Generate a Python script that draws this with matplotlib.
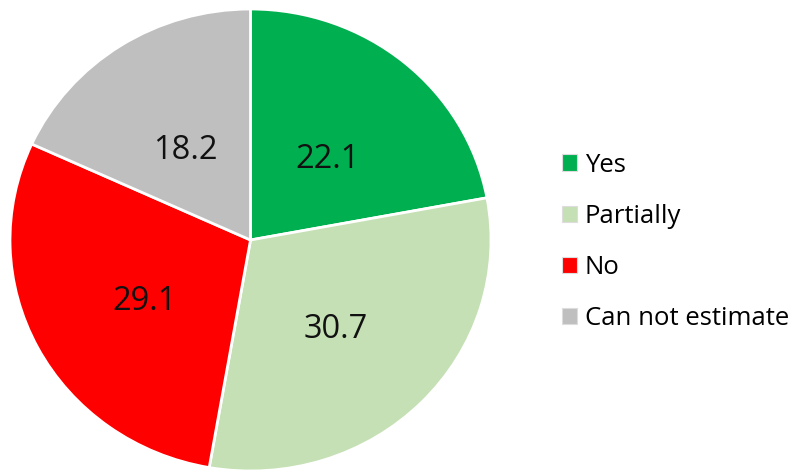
import matplotlib.pyplot as plt
import matplotlib.transforms as mtransforms

# Data
categories = ["Yes", "Partially", "No", "Can not estimate"]
values = [22.1, 30.7, 29.1, 18.2]
colors = ["#00B050", "#C5E0B4", "#FF0000", "#BFBFBF"]

plt.rcParams['font.family'] = ['Open Sans', 'DejaVu Sans']

fig = plt.figure(figsize=(7.97, 4.75), dpi=100)
# pie in the reference is slightly wider than tall
ax = fig.add_axes([10 / 797, 4 / 475, 481 / 797, 462 / 475])

wedges, texts = ax.pie(values, colors=colors, startangle=90, counterclock=False,
                       labels=[f"{v:.1f}" for v in values], labeldistance=0.5,
                       wedgeprops=dict(edgecolor="white", linewidth=2),
                       textprops=dict(fontsize=23.5, color="#111111"))
# data labels sit a little lower than the geometric point
shift = mtransforms.offset_copy(ax.transData, fig=fig, x=0, y=-8, units="dots")
for t in texts:
    t.set_horizontalalignment("center")
    t.set_verticalalignment("center")
    t.set_transform(shift)
ax.set_xlim(-1, 1)
ax.set_ylim(-1, 1)
ax.set_aspect("auto")
for w in wedges:
    w.set_clip_on(False)

leg = fig.legend(wedges, categories, loc="center left",
                 bbox_to_anchor=(549 / 797, 1 - 242 / 475),
                 frameon=False, fontsize=18.5, handlelength=0.6, handleheight=0.6,
                 handletextpad=0.3, labelspacing=1.02, borderpad=0)
for h in leg.legend_handles:
    h.set_edgecolor("#dddddd")
    h.set_linewidth(0.8)

fig.savefig("out.png", dpi=100)
